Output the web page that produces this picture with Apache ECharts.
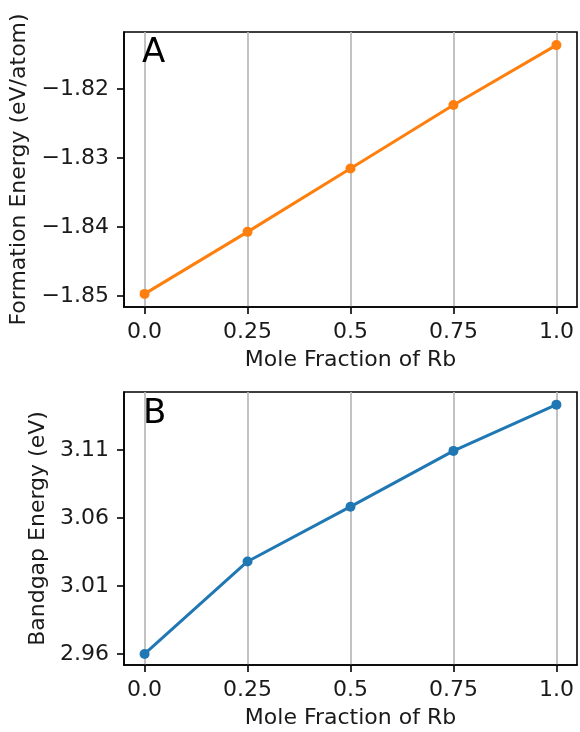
<!DOCTYPE html>
<html>
<head>
<meta charset="utf-8">
<script src="https://cdn.jsdelivr.net/npm/echarts@6/dist/echarts.min.js"></script>
<style>
html,body{margin:0;padding:0;background:#fff;}
#c{width:580px;height:732px;}
</style>
</head>
<body>
<div id="c"></div>
<script>
// Data
const moleFraction = [0.0, 0.25, 0.5, 0.75, 1.0];
const formationEnergy = [-1.8497, -1.8407, -1.8315, -1.8223, -1.8136];
const bandgapEnergy = [2.9600, 3.0280, 3.0683, 3.1093, 3.1433];
const xTicks = [0.0, 0.25, 0.5, 0.75, 1.0];
const xTickLabels = ['0.0', '0.25', '0.5', '0.75', '1.0'];
const formationTicks = [-1.85, -1.84, -1.83, -1.82];
const bandgapTicks = [2.96, 3.01, 3.06, 3.11];

const FONT = 'DejaVu Sans';
const FS = 22;
const TXT = '#1a1a1a';

function pairs(xs, ys) { return xs.map((x, i) => [x, ys[i]]); }
function fmtY(v) { return v.toFixed(2).replace('-', '\u2212'); }
function fmtX(v) {
  const i = xTicks.findIndex(t => Math.abs(t - v) < 1e-9);
  return i >= 0 ? xTickLabels[i] : '';
}

function xAxis(gridIndex) {
  return {
    type: 'value', gridIndex, min: -0.05, max: 1.05,
    name: 'Mole Fraction of Rb', nameLocation: 'middle', nameGap: 42,
    nameTextStyle: { fontFamily: FONT, fontSize: FS, color: TXT },
    axisLine: { show: true, onZero: false, lineStyle: { color: '#000', width: 1.6 } },
    axisTick: { show: true, length: 7, customValues: xTicks, lineStyle: { color: '#000', width: 1.6 } },
    axisLabel: { customValues: xTicks, formatter: fmtX, margin: 14, fontFamily: FONT, fontSize: FS, color: TXT },
    splitLine: { show: true, lineStyle: { color: '#b8b8b8', width: 1.7 } }
  };
}
function yAxis(gridIndex, min, max, ticks, name, gap) {
  return {
    type: 'value', gridIndex, min, max,
    name, nameLocation: 'middle', nameGap: gap, nameRotate: 90,
    nameTextStyle: { fontFamily: FONT, fontSize: FS, color: TXT },
    axisLine: { show: true, onZero: false, lineStyle: { color: '#000', width: 1.6 } },
    axisTick: { show: true, length: 7, customValues: ticks, lineStyle: { color: '#000', width: 1.6 } },
    axisLabel: { customValues: ticks, formatter: fmtY, margin: 15, fontFamily: FONT, fontSize: FS, color: TXT },
    splitLine: { show: false }
  };
}

const chart = echarts.init(document.getElementById('c'), null, { renderer: 'canvas' });
chart.setOption({
  animation: false,
  backgroundColor: '#fff',
  grid: [
    { left: 124, right: 3, top: 32, height: 275, show: true, borderColor: '#000', borderWidth: 1.6, backgroundColor: 'transparent' },
    { left: 124, right: 3, top: 392, height: 273, show: true, borderColor: '#000', borderWidth: 1.6, backgroundColor: 'transparent' }
  ],
  xAxis: [xAxis(0), xAxis(1)],
  yAxis: [
    yAxis(0, -1.8516, -1.8117, formationTicks, 'Formation Energy (eV/atom)', 90),
    yAxis(1, 2.9519, 3.1526, bandgapTicks, 'Bandgap Energy (eV)', 73)
  ],
  graphic: [
    { type: 'text', left: 142, top: 36, z: 10, style: { text: 'A', fontFamily: FONT, fontSize: 34, fill: '#000' } },
    { type: 'text', left: 143, top: 397, z: 10, style: { text: 'B', fontFamily: FONT, fontSize: 34, fill: '#000' } }
  ],
  series: [
    {
      type: 'line', xAxisIndex: 0, yAxisIndex: 0,
      data: pairs(moleFraction, formationEnergy),
      symbol: 'circle', symbolSize: 10, showSymbol: true,
      lineStyle: { color: '#ff7f0e', width: 3 },
      itemStyle: { color: '#ff7f0e' }
    },
    {
      type: 'line', xAxisIndex: 1, yAxisIndex: 1,
      data: pairs(moleFraction, bandgapEnergy),
      symbol: 'circle', symbolSize: 10, showSymbol: true,
      lineStyle: { color: '#1f77b4', width: 3 },
      itemStyle: { color: '#1f77b4' }
    }
  ]
});
</script>
</body>
</html>
